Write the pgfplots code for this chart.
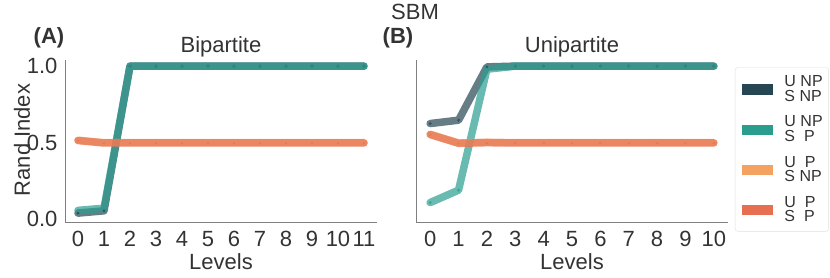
\documentclass[border=0pt]{standalone}
\usepackage{fontspec}
\setmainfont{Liberation Sans}
\usepackage{pgfplots}
\pgfplotsset{compat=1.18}
\definecolor{cdk}{HTML}{264653}
\definecolor{cte}{HTML}{2A9D8F}
\definecolor{csa}{HTML}{F4A261}
\definecolor{cre}{HTML}{E76F51}
\definecolor{txt}{HTML}{333333}
\definecolor{spine}{HTML}{808080}
\pgfplotsset{
  panel/.style={
    scale only axis, width=312pt, height=162pt,
    axis lines*=left,
    axis line style={spine, line width=0.9pt, -},
    xmin=-0.5, ymin=-0.018, ymax=1.04,
    ytick={0,0.5,1},
    major tick length=0pt, tick style={draw=none},
    /pgf/number format/assume math mode=true,
    ticklabel style={font=\fontsize{22}{24}\selectfont, text=txt},
    yticklabel style={/pgf/number format/.cd, fixed, fixed zerofill, precision=1, /tikz/.cd, xshift=-4pt},
    xticklabel style={yshift=-6pt},
    clip=false,
  },
  ln/.style={line width=7.5pt, opacity=0.7, line join=round, line cap=round,
    mark=*, mark size=1.4pt, mark options={line width=0.1pt, #1}, #1},
}
\begin{document}
\begin{tikzpicture}[x=1pt,y=1pt]
\useasboundingbox (0,0) rectangle (830,277);
% left panel
\begin{axis}[panel, at={(65pt,55pt)}, anchor=south west,
  xmax=11.5, xtick={0,...,11}]
\addplot[ln=cdk] coordinates {(0,0.04)(1,0.055)(2,1)(3,1)(4,1)(5,1)(6,1)(7,1)(8,1)(9,1)(10,1)(11,1)};
\addplot[ln=cte] coordinates {(0,0.058)(1,0.072)(2,1)(3,1)(4,1)(5,1)(6,1)(7,1)(8,1)(9,1)(10,1)(11,1)};
\addplot[ln=csa] coordinates {(0,0.516)(1,0.5)(2,0.5)(3,0.5)(4,0.5)(5,0.5)(6,0.5)(7,0.5)(8,0.5)(9,0.5)(10,0.5)(11,0.5)};
\addplot[ln=cre] coordinates {(0,0.514)(1,0.498)(2,0.498)(3,0.498)(4,0.498)(5,0.498)(6,0.498)(7,0.498)(8,0.498)(9,0.498)(10,0.498)(11,0.498)};
\end{axis}
% right panel
\begin{axis}[panel, at={(416pt,55pt)}, anchor=south west,
  xmax=10.5, xtick={0,...,10}, yticklabels={},
  legend style={at={(1.022,0.955)}, anchor=north west, draw=gray!25,
    rounded corners=3pt, text=txt,
    nodes={font=\fontsize{16}{14.5}\selectfont, align=left, anchor=west, inner xsep=0pt, inner ysep=1.3pt},
    /tikz/every odd column/.append style={column sep=11pt},
    row sep=10.5pt,
    inner xsep=6pt, inner ysep=7pt},
  legend image code/.code={\fill[#1, sharp corners, draw=white, line width=0.4pt] (0pt,-5.7pt) rectangle (32pt,5.7pt);},
  ]
\addplot[ln=cdk, forget plot] coordinates {(0,0.625)(1,0.647)(2,0.995)(3,1)(4,1)(5,1)(6,1)(7,1)(8,1)(9,1)(10,1)};
\addplot[ln=cte, forget plot] coordinates {(0,0.109)(1,0.19)(2,0.98)(3,1)(4,1)(5,1)(6,1)(7,1)(8,1)(9,1)(10,1)};
\addplot[ln=csa, forget plot] coordinates {(0,0.555)(1,0.498)(2,0.503)(3,0.5)(4,0.5)(5,0.5)(6,0.5)(7,0.5)(8,0.5)(9,0.5)(10,0.5)};
\addplot[ln=cre, forget plot] coordinates {(0,0.553)(1,0.496)(2,0.5)(3,0.498)(4,0.498)(5,0.498)(6,0.498)(7,0.498)(8,0.498)(9,0.498)(10,0.498)};
\addlegendimage{cdk}\addlegendentry{U NP\\S NP}
\addlegendimage{cte}\addlegendentry{U NP\\S\ \ P}
\addlegendimage{csa}\addlegendentry{U\ \ P\\S NP}
\addlegendimage{cre}\addlegendentry{U\ \ P\\S\ \ P}
\end{axis}
% texts
\begin{scope}[every node/.style={text=txt, inner sep=0pt}]
\node[font=\fontsize{22}{24}\selectfont] at (415,265) {SBM};
\node[font=\fontsize{22}{24}\selectfont\bfseries] at (49,239) {(A)};
\node[font=\fontsize{22}{24}\selectfont\bfseries] at (398,239) {(B)};
\node[font=\fontsize{22}{24}\selectfont] at (221,230) {Bipartite};
\node[font=\fontsize{22}{24}\selectfont] at (572,230) {Unipartite};
\node[font=\fontsize{22}{24}\selectfont, rotate=90] at (22,137) {Rand Index};
\node[font=\fontsize{22}{24}\selectfont] at (221,15) {Levels};
\node[font=\fontsize{22}{24}\selectfont] at (572,15) {Levels};
\end{scope}
\end{tikzpicture}
\end{document}
